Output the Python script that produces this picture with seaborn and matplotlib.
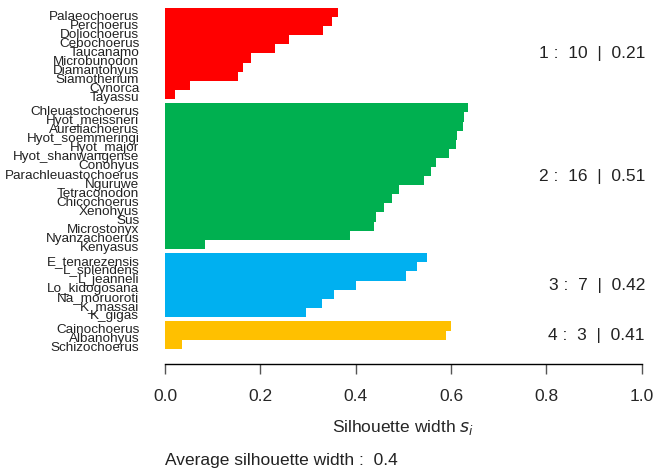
import numpy as np
import pandas as pd
import matplotlib
matplotlib.use("Agg")
import matplotlib.pyplot as plt
import matplotlib.transforms as mtransforms
import seaborn as sns

# ---- data ----
names_c1 = ["Palaeochoerus", "Perchoerus", "Doliochoerus", "Cebochoerus", "Taucanamo",
            "Microbunodon", "Diamantohyus", "Siamotherium", "Cynorca", "Tayassu"]
widths_c1 = [0.363, 0.350, 0.331, 0.261, 0.231, 0.180, 0.164, 0.153, 0.052, 0.021]

names_c2 = ["Chleuastochoerus", "Hyot_meissneri", "Aureliachoerus", "Hyot_soemmeringi",
            "Hyot_major", "Hyot_shanwangense", "Conohyus", "Parachleuastochoerus",
            "Nguruwe", "Tetraconodon", "Chicochoerus", "Xenohyus", "Sus",
            "Microstonyx", "Nyanzachoerus", "Kenyasus"]
widths_c2 = [0.636, 0.627, 0.626, 0.612, 0.610, 0.596, 0.568, 0.558, 0.543,
             0.491, 0.476, 0.459, 0.443, 0.438, 0.388, 0.084]

names_c3 = ["E_tenarezensis", "L_splendens", "L_jeanneli", "Lo_kidogosana",
            "Na_moruoroti", "K_massai", "K_gigas"]
widths_c3 = [0.550, 0.529, 0.506, 0.401, 0.355, 0.329, 0.296]

names_c4 = ["Cainochoerus", "Albanohyus", "Schizochoerus"]
widths_c4 = [0.600, 0.590, 0.036]

cluster_ids = [1, 2, 3, 4]
cluster_avg = [0.21, 0.51, 0.42, 0.41]
overall_avg = 0.4
cluster_colors = ["#FF0000", "#00B050", "#00B0F0", "#FFC000"]
x_ticks = [0.0, 0.2, 0.4, 0.6, 0.8, 1.0]

# ---- build table ----
all_names = [names_c1, names_c2, names_c3, names_c4]
all_widths = [widths_c1, widths_c2, widths_c3, widths_c4]
rows = []
pos = 0.0
for ci, (nm, wd) in enumerate(zip(all_names, all_widths)):
    if ci > 0:
        pos += 0.5  # gap between clusters
    for n, w in zip(nm, wd):
        rows.append({"name": n, "width": w, "pos": pos, "cluster": str(cluster_ids[ci])})
        pos += 1.0
df = pd.DataFrame(rows)

# ---- figure ----
sns.set_style("white")
plt.rcParams["font.family"] = ["Liberation Sans", "DejaVu Sans"]

W, H = 658, 474
fig = plt.figure(figsize=(W / 100, H / 100), dpi=100)
ax_left, ax_right = 165, 641.7
ax_top, ax_bot = 8, 348.7
ax = fig.add_axes([ax_left / W, 1 - ax_bot / H, (ax_right - ax_left) / W, (ax_bot - ax_top) / H])

sns.barplot(data=df, x="width", y="pos", hue="cluster", orient="h", native_scale=True,
            palette=cluster_colors, width=1.0, dodge=False, linewidth=0,
            legend=False, ax=ax, saturation=1)

ax.set_xlim(0, 1)
ax.set_ylim(df["pos"].max() + 0.5, -0.5)

for s in ["left", "top", "right"]:
    ax.spines[s].set_visible(False)
ax.spines["bottom"].set_position(("outward", 11))
ax.spines["bottom"].set_bounds(0, 1)
ax.spines["bottom"].set_linewidth(1.0)
ax.spines["bottom"].set_color("black")

ax.set_xticks(x_ticks)
ax.set_xticklabels([f"{t:.1f}" for t in x_ticks])
ax.tick_params(axis="x", direction="out", length=7, width=1, color="#555555",
               labelsize=12.5, pad=11, bottom=True)

ax.set_yticks(df["pos"].tolist())
ax.set_yticklabels(df["name"].tolist())
ax.tick_params(axis="y", length=0, pad=18.5, labelsize=9.7)
offset = mtransforms.ScaledTranslation(0, -2.5 / 100, fig.dpi_scale_trans)
for lab in ax.get_yticklabels():
    lab.set_transform(lab.get_transform() + offset)
    lab.set_color("#222222")

ax.set_ylabel("")
ax.set_xlabel("Silhouette width $s_i$", fontsize=12.5, labelpad=10)

# cluster summaries on the right
blend = mtransforms.blended_transform_factory(fig.transFigure, ax.transData)
for ci, cid in enumerate(cluster_ids):
    sub = df[df["cluster"] == str(cid)]
    yc = sub["pos"].mean()
    ax.text(645 / W, yc, f"{cid} :  {len(sub)}  |  {cluster_avg[ci]:.2f}",
            transform=blend, ha="right", va="center", fontsize=12.5, color="#222222",
            clip_on=False)

fig.text(165 / W, 1 - 461 / H, f"Average silhouette width :  {overall_avg}",
         ha="left", va="center", fontsize=12.5, color="#222222")

fig.savefig("out.png", dpi=100)
